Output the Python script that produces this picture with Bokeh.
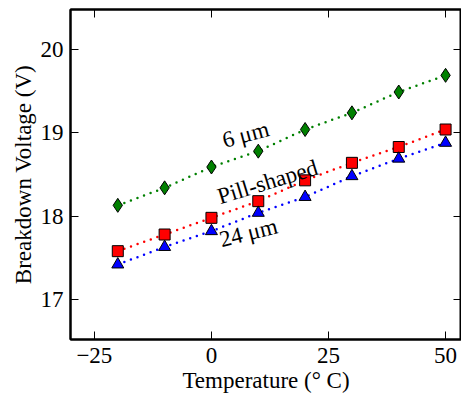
import math
from bokeh.plotting import figure
from bokeh.models import LinearAxis, FixedTicker, Range1d, ColumnDataSource
from bokeh.core.properties import value
from bokeh.embed import file_html
from bokeh.resources import INLINE

temps = [-20, -10, 0, 10, 20, 30, 40, 50]
v_6um = [18.13, 18.34, 18.59, 18.78, 19.04, 19.24, 19.49, 19.69]
v_pill = [17.58, 17.78, 17.98, 18.18, 18.43, 18.64, 18.83, 19.04]
v_24um = [17.42, 17.63, 17.82, 18.04, 18.23, 18.48, 18.69, 18.88]
x_ticks = [-25, 0, 25, 50]
y_ticks = [17, 18, 19, 20]
labels = ["6 \u03bcm", "Pill-shaped", "24 \u03bcm"]
label_x = [7.3, 12.0, 7.9]
label_y = [18.98, 18.41, 17.80]
label_angle_deg = [15, 17, 14]

FONT = "Liberation Serif"
FS = "23px"

p = figure(frame_width=391, frame_height=330, output_backend="svg", toolbar_location=None,
           x_range=Range1d(-30.1, 53.4), y_range=Range1d(16.52, 20.48),
           x_axis_label="Temperature (\u00b0 C)", y_axis_label="Breakdown Voltage (V)",
           min_border_left=70, min_border_right=0, min_border_top=9, min_border_bottom=0)
p.grid.visible = False
p.outline_line_color = "black"
p.outline_line_width = 2

for ax in p.axis:
    ax.axis_line_width = 2
    ax.major_tick_in = 8
    ax.major_tick_out = 0
    ax.minor_tick_in = 0
    ax.minor_tick_out = 0
    ax.major_tick_line_width = 1
    ax.major_label_text_font = FONT
    ax.major_label_text_font_size = FS
    ax.major_label_text_color = "black"
    ax.axis_label_text_font = FONT
    ax.axis_label_text_font_size = FS
    ax.axis_label_text_font_style = "normal"
    ax.axis_label_text_color = "black"

p.xaxis.ticker = FixedTicker(ticks=x_ticks)
p.yaxis.ticker = FixedTicker(ticks=y_ticks)
p.xaxis.major_label_overrides = {t: (("\u2212" + str(-t)) if t < 0 else str(t)) for t in x_ticks}
p.xaxis.major_label_standoff = 8
p.yaxis.major_label_standoff = 7
p.xaxis.axis_label_standoff = 2
p.yaxis.axis_label_standoff = 2

top = LinearAxis(ticker=FixedTicker(ticks=x_ticks), major_tick_in=8, major_tick_out=0,
                 minor_tick_in=0, minor_tick_out=0, axis_line_width=2,
                 major_label_overrides={t: "" for t in x_ticks}, major_label_standoff=0)
right = LinearAxis(ticker=FixedTicker(ticks=y_ticks), major_tick_in=8,
                   major_tick_out=0, minor_tick_in=0, minor_tick_out=0, axis_line_width=2,
                   major_label_overrides={t: "" for t in y_ticks}, major_label_standoff=0)
p.add_layout(top, "above")
p.add_layout(right, "right")

series = [
    (v_6um, "#008000", "diamond", 14),
    (v_pill, "#ff0000", "square", 11),
    (v_24um, "#0000ff", "triangle", 12),
]
for vals, col, mk, sz in series:
    src = ColumnDataSource(dict(x=temps, y=vals))
    p.line("x", "y", source=src, line_color=col, line_width=2.5, line_dash="0 7", line_cap="round")
    p.scatter("x", "y", source=src, marker=mk, size=sz, fill_color=col, line_color="black", line_width=1)

tsrc = ColumnDataSource(dict(x=label_x, y=label_y, t=labels,
                             a=[math.radians(a) for a in label_angle_deg]))
p.text("x", "y", text="t", angle="a", source=tsrc, text_font=value(FONT),
       text_font_size=FS, text_align="center", text_baseline="middle", text_color="black")

open("out.html", "w").write(file_html(p, INLINE))
